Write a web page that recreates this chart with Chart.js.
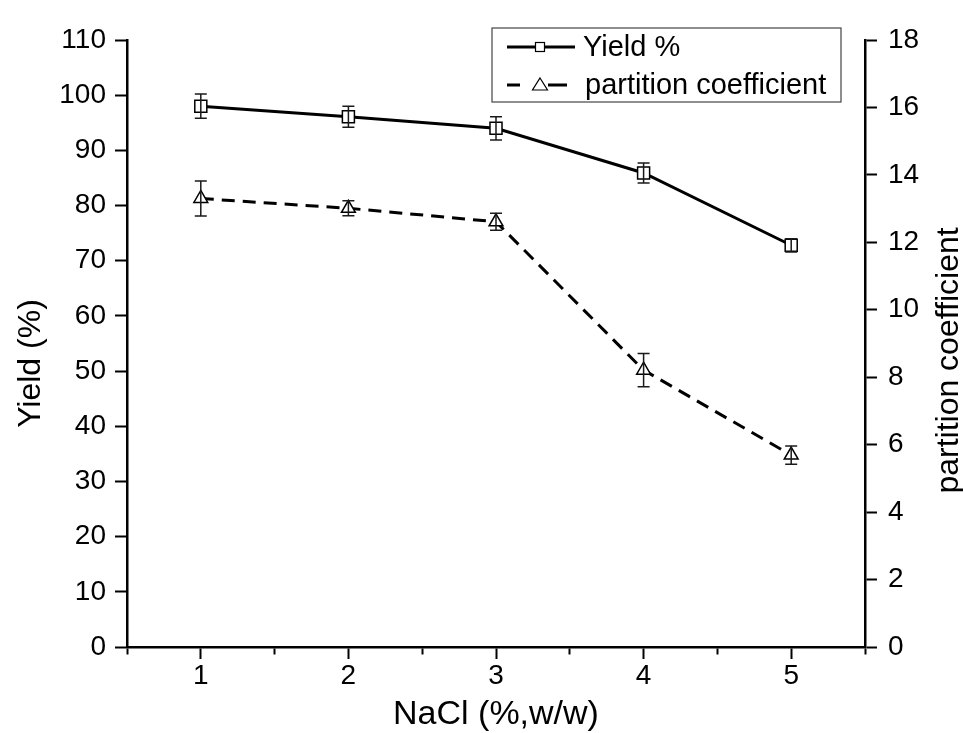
<!DOCTYPE html>
<html>
<head>
<meta charset="utf-8">
<title>Yield and partition coefficient vs NaCl</title>
<script src="https://cdn.jsdelivr.net/npm/chart.js@4.4.1/dist/chart.umd.min.js"></script>
<style>
  html, body { margin: 0; padding: 0; background: #fff; }
  #wrap { width: 963px; height: 733px; }
</style>
</head>
<body>
<div id="wrap"><canvas id="myChart" width="963" height="733"></canvas></div>
<script>
// datos
const nacl = [1, 2, 3, 4, 5];                          // NaCl (%,w/w)
const yieldPct = [98.0, 96.1, 94.0, 85.9, 72.8];       // Yield %
const yieldErr = [2.2, 1.9, 2.1, 1.8, 1.2];
const partition = [13.30, 13.01, 12.61, 8.21, 5.69];   // partition coefficient
const partitionErr = [0.52, 0.22, 0.25, 0.49, 0.27];

// ticks de los ejes
const xTicks = [0.5, 1, 1.5, 2, 2.5, 3, 3.5, 4, 4.5, 5, 5.5];
const yieldTicks = [0, 10, 20, 30, 40, 50, 60, 70, 80, 90, 100, 110];
const partitionTicks = [0, 2, 4, 6, 8, 10, 12, 14, 16, 18];

const fontFamily = "'Liberation Sans', Arial, sans-serif";
Chart.defaults.font.family = fontFamily;
Chart.defaults.color = "#000";

function setTicks(values) {
  return (scale) => { scale.ticks = values.map((v) => ({ value: v })); };
}

function drawErrorBars(ctx, xs, ys, vals, errs) {
  ctx.save();
  ctx.strokeStyle = "#1a1a1a";
  ctx.lineWidth = 1.5;
  nacl.forEach((n, i) => {
    const px = xs.getPixelForValue(n);
    const top = ys.getPixelForValue(vals[i] + errs[i]);
    const bot = ys.getPixelForValue(vals[i] - errs[i]);
    ctx.beginPath();
    ctx.moveTo(px, top); ctx.lineTo(px, bot);
    ctx.moveTo(px - 6, top); ctx.lineTo(px + 6, top);
    ctx.moveTo(px - 6, bot); ctx.lineTo(px + 6, bot);
    ctx.stroke();
  });
  ctx.restore();
}

// barras de error, titulos verticales y leyenda
const decorPlugin = {
  id: "decor",
  afterDatasetsDraw(chart) {
    const ctx = chart.ctx;
    drawErrorBars(ctx, chart.scales.x, chart.scales.y, yieldPct, yieldErr);
    drawErrorBars(ctx, chart.scales.x, chart.scales.y1, partition, partitionErr);
  },
  afterDraw(chart) {
    const ctx = chart.ctx;
    const area = chart.chartArea;
    const mid = (area.top + area.bottom) / 2;

    ctx.save();
    ctx.fillStyle = "#000";
    ctx.font = "32px " + fontFamily;
    ctx.textAlign = "center";
    ctx.textBaseline = "middle";
    // titulo eje izquierdo
    ctx.save();
    ctx.translate(31, mid + 20);
    ctx.rotate(-Math.PI / 2);
    ctx.fillText("Yield (%)", 0, 0);
    ctx.restore();
    // titulo eje derecho
    ctx.save();
    ctx.translate(chart.width - 14, mid + 17);
    ctx.rotate(-Math.PI / 2);
    ctx.fillText("partition coefficient", 0, 0);
    ctx.restore();

    // leyenda
    const boxW = 349, boxH = 74;
    const bx = area.right - 24 - boxW;
    const by = area.top - 12;
    ctx.strokeStyle = "#444";
    ctx.lineWidth = 1.2;
    ctx.strokeRect(bx, by, boxW, boxH);

    const row1 = by + 19, row2 = by + 57;
    ctx.strokeStyle = "#000";
    ctx.lineWidth = 3;
    ctx.beginPath();
    ctx.moveTo(bx + 15, row1); ctx.lineTo(bx + 83, row1);
    ctx.moveTo(bx + 15, row2); ctx.lineTo(bx + 28, row2);
    ctx.moveTo(bx + 56, row2); ctx.lineTo(bx + 75, row2);
    ctx.stroke();

    ctx.lineWidth = 1.2;
    ctx.fillStyle = "#fff";
    ctx.fillRect(bx + 43.5, row1 - 4.5, 9, 9);
    ctx.strokeRect(bx + 43.5, row1 - 4.5, 9, 9);
    ctx.beginPath();
    ctx.moveTo(bx + 48, row2 - 7);
    ctx.lineTo(bx + 55.5, row2 + 5);
    ctx.lineTo(bx + 40.5, row2 + 5);
    ctx.closePath();
    ctx.fill();
    ctx.stroke();

    ctx.fillStyle = "#000";
    ctx.font = "29px " + fontFamily;
    ctx.textAlign = "left";
    ctx.fillText("Yield %", bx + 91, row1 + 1);
    ctx.fillText("partition coefficient", bx + 93, row2 + 1);
    ctx.restore();
  }
};

const config = {
  type: "line",
  data: {
    datasets: [
      {
        label: "Yield %",
        data: nacl.map((n, i) => ({ x: n, y: yieldPct[i] })),
        yAxisID: "y",
        borderColor: "#000",
        borderWidth: 3,
        pointStyle: "rect",
        pointRadius: 8.5,
        pointBorderWidth: 1.5,
        pointBorderColor: "#000",
        pointBackgroundColor: "#fff",
        tension: 0,
        clip: false
      },
      {
        label: "partition coefficient",
        data: nacl.map((n, i) => ({ x: n, y: partition[i] })),
        yAxisID: "y1",
        borderColor: "#000",
        borderWidth: 3,
        borderDash: [13, 8],
        pointStyle: "triangle",
        pointRadius: 8,
        pointBorderWidth: 1.5,
        pointBorderColor: "#000",
        pointBackgroundColor: "#fff",
        tension: 0,
        clip: false
      }
    ]
  },
  options: {
    responsive: false,
    animation: false,
    events: [],
    devicePixelRatio: 1,
    layout: { padding: { top: 40, left: 0, right: 0, bottom: 0 } },
    plugins: {
      legend: { display: false },
      tooltip: { enabled: false }
    },
    scales: {
      x: {
        type: "linear",
        min: 0.5,
        max: 5.5,
        afterBuildTicks: setTicks(xTicks),
        afterFit: (scale) => { scale.height = 86; },
        border: { display: true, color: "#000", width: 2.5 },
        grid: {
          drawOnChartArea: false,
          drawTicks: true,
          tickLength: 12,
          tickWidth: 2,
          tickColor: "#000",
          tickBorderDash: (ctx) => (Number.isInteger(ctx.tick.value) ? [] : [6, 100])
        },
        ticks: {
          padding: 0,
          font: { size: 28 },
          maxRotation: 0,
          autoSkip: false,
          callback: (v) => (Number.isInteger(v) ? String(v) : "")
        },
        title: {
          display: true,
          text: "NaCl (%,w/w)",
          font: { size: 34, lineHeight: 1 },
          padding: { top: 0, bottom: 1 }
        }
      },
      y: {
        type: "linear",
        position: "left",
        min: 0,
        max: 110,
        afterBuildTicks: setTicks(yieldTicks),
        afterFit: (scale) => { scale.width = 127; },
        border: { display: true, color: "#000", width: 2.5 },
        grid: { drawOnChartArea: false, tickLength: 12, tickWidth: 2, tickColor: "#000" },
        ticks: { padding: 9, font: { size: 28 }, autoSkip: false }
      },
      y1: {
        type: "linear",
        position: "right",
        min: 0,
        max: 18,
        afterBuildTicks: setTicks(partitionTicks),
        afterFit: (scale) => { scale.width = 98; },
        border: { display: true, color: "#000", width: 2.5 },
        grid: { drawOnChartArea: false, tickLength: 12, tickWidth: 2, tickColor: "#000" },
        ticks: { padding: 11, font: { size: 28 }, autoSkip: false }
      }
    }
  },
  plugins: [decorPlugin]
};

const myChart = new Chart(document.getElementById("myChart"), config);
</script>
</body>
</html>
